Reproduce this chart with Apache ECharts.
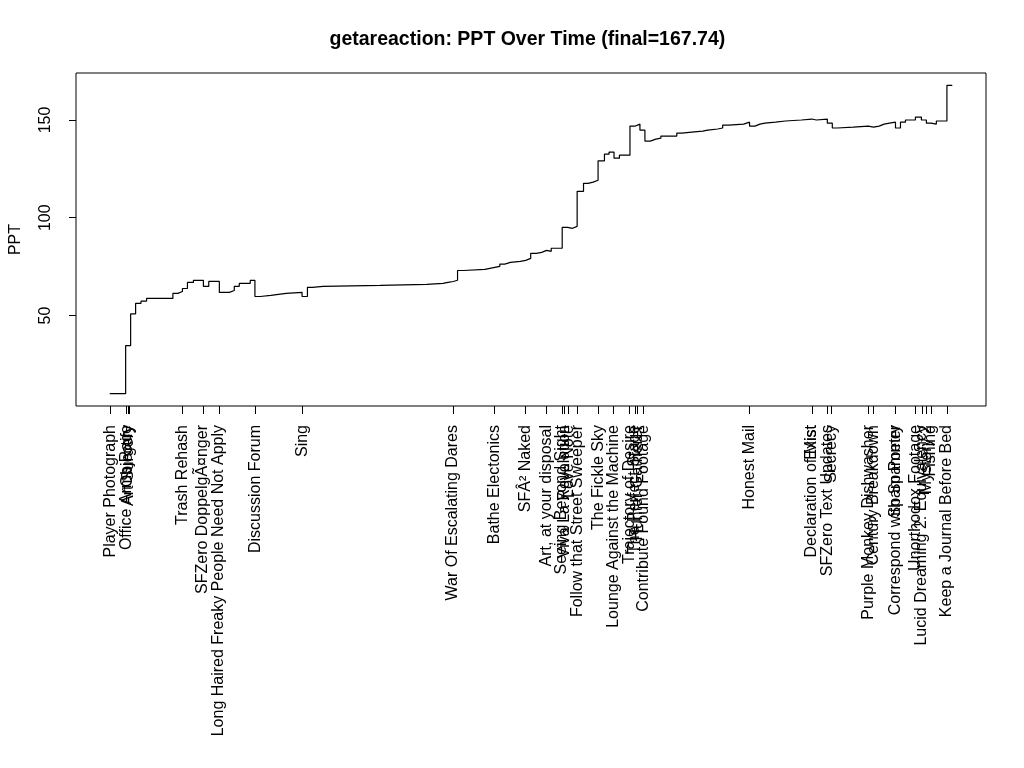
<!DOCTYPE html>
<html>
<head>
<meta charset="utf-8">
<script src="https://cdn.jsdelivr.net/npm/echarts@6/dist/echarts.min.js"></script>
<style>html,body{margin:0;padding:0;background:#fff;}#chart{width:1024px;height:768px;}</style>
</head>
<body>
<div id="chart"></div>
<script>
// Time (arbitrary units from first event) and PPT value after each event
const times = [0, 16.0, 21.0, 26.0, 31.4, 37.0, 63.4, 68.4, 73.0, 78.0, 84.0, 94.0, 99.4, 110.0, 120.0, 125.0, 130.0, 141.0, 145.7, 151.0, 161.7, 177.0, 193.0, 198.4, 203.4, 214.0, 271.4, 318.0, 334.4, 339.4, 344.7, 349.0, 355.0, 376.4, 381.4, 386.4, 391.4, 396.4, 402.0, 412.0, 417.4, 422.4, 428.0, 433.4, 438.4, 443.0, 454.0, 459.4, 464.4, 469.0, 475.4, 480.0, 485.0, 490.0, 496.4, 501.0, 506.0, 511.4, 522.0, 527.4, 532.0, 537.0, 542.4, 548.0, 553.0, 569.0, 574.0, 584.0, 595.0, 600.0, 610.0, 615.0, 621.0, 636.0, 642.0, 647.4, 652.4, 657.4, 668.0, 678.0, 694.0, 704.4, 709.0, 720.0, 725.0, 730.0, 746.0, 761.0, 766.4, 772.0, 777.0, 782.4, 788.4, 793.4, 798.4, 808.4, 814.4, 819.4, 824.0, 829.4, 840.0, 845.4];
const ppt = [10.0, 34.6, 50.8, 56.2, 57.3, 58.7, 61.3, 62.3, 63.8, 66.9, 68.0, 64.9, 67.4, 61.8, 62.8, 64.9, 66.4, 68.0, 59.7, 60.3, 61.3, 61.8, 59.7, 64.4, 64.9, 65.4, 65.9, 66.4, 66.9, 67.4, 68.0, 73.0, 73.6, 74.1, 74.6, 75.1, 76.3, 77.2, 77.7, 78.2, 79.2, 81.8, 82.3, 83.3, 82.8, 84.4, 95.1, 94.6, 95.6, 113.5, 117.6, 118.2, 119.2, 129.1, 132.5, 133.6, 130.5, 132.0, 146.9, 147.9, 144.8, 139.2, 140.2, 140.7, 141.8, 143.3, 143.8, 144.3, 144.8, 145.4, 145.9, 147.4, 147.9, 148.9, 146.9, 147.9, 148.4, 148.9, 149.5, 150.0, 150.5, 150.0, 150.5, 148.4, 145.9, 146.4, 146.9, 146.4, 146.9, 147.9, 148.4, 148.9, 145.9, 148.9, 150.0, 151.5, 150.0, 148.4, 147.9, 149.5, 167.74, 167.74];

// Event (tick) labels on the time axis
const eventTimes = [0.5, 17.0, 18.2, 19.4, 72.7, 93.7, 109.7, 146.0, 193.4, 344.4, 386.0, 417.0, 438.4, 453.7, 456.0, 460.4, 469.4, 490.4, 505.4, 521.7, 527.0, 529.4, 535.4, 642.0, 704.4, 704.6, 720.0, 724.4, 761.0, 766.0, 788.4, 788.6, 808.4, 815.0, 819.7, 824.0, 840.0];
const eventNames = ["Player Photograph", "Office Arms Race", "Objectify", "Art Surgery", "Trash Rehash", "SFZero DoppelgÃ¤nger", "Long Haired Freaky People Need Not Apply", "Discussion Forum", "Sing", "War Of Escalating Dares", "Bathe Electonics", "SFÂ² Naked", "Art, at your disposal", "Seeing Beyond Sight", "Viva La Revolution", "Love Note", "Follow that Street Sweeper", "The Fickle Sky", "Lounge Against the Machine", "Trajectory of Desire", "The Perfect Stage", "Hunter Gatherer", "Contribute Found Footage", "Honest Mail", "Declaration of Mist", "Exist", "SFZero Text Updates", "Secrecy", "Purple Monkey Dishwasher", "Century Breakdown", "Correspond with Spammer", "Spam Poetry", "Unorthodox Footage", "Lucid Dreaming 2: Equivalency", "Mystery 2", "Fishing", "Keep a Journal Before Bed"];

const yTicks = [50, 100, 150];
const titleText = "getareaction: PPT Over Time (final=167.74)";
const yName = "PPT";

const FONT = "'Liberation Sans', Arial, Helvetica, sans-serif";
const nameByTime = {};
eventTimes.forEach((t, i) => { nameByTime[String(t)] = eventNames[i]; });

const tMin = Math.min(...times), tMax = Math.max(...times);
const tPad = (tMax - tMin) * 0.04;
const vMin = Math.min(...ppt), vMax = Math.max(...ppt);
const vPad = (vMax - vMin) * 0.04;

const chart = echarts.init(document.getElementById('chart'), null, {renderer: 'canvas'});
chart.setOption({
  animation: false,
  backgroundColor: '#ffffff',
  graphic: [{
    type: 'text',
    left: 529.5 - 200, top: 30,
    style: {
      text: titleText, x: 200, y: 0, align: 'center',
      font: 'bold 19.5px ' + FONT, fill: '#000'
    }
  }],
  grid: {
    left: 73, top: 73, width: 913, height: 333,
    show: true, borderColor: '#000', borderWidth: 1, backgroundColor: 'transparent'
  },
  xAxis: {
    type: 'value',
    min: tMin - tPad, max: tMax + tPad,
    axisLine: {show: false, onZero: false},
    splitLine: {show: false},
    axisTick: {show: true, length: 8, customValues: eventTimes, lineStyle: {color: '#000', width: 1}},
    axisLabel: {
      customValues: eventTimes, rotate: 90, margin: 19,
      color: '#000', fontSize: 16, fontFamily: FONT,
      formatter: v => nameByTime[String(v)] || ''
    }
  },
  yAxis: {
    type: 'value',
    min: vMin - vPad, max: vMax + vPad,
    name: yName, nameLocation: 'middle', nameGap: 52,
    nameTextStyle: {color: '#000', fontSize: 16, fontFamily: FONT},
    axisLine: {show: false, onZero: false},
    splitLine: {show: false},
    axisTick: {show: true, length: 7, customValues: yTicks, lineStyle: {color: '#000', width: 1}},
    axisLabel: {
      customValues: yTicks, rotate: 90, margin: 22,
      color: '#000', fontSize: 16, fontFamily: FONT
    }
  },
  series: [{
    type: 'line',
    step: 'end',
    symbol: 'none',
    data: times.map((t, i) => [t, ppt[i]]),
    lineStyle: {color: '#000', width: 1.2},
    itemStyle: {color: '#000'}
  }]
});
</script>
</body>
</html>
